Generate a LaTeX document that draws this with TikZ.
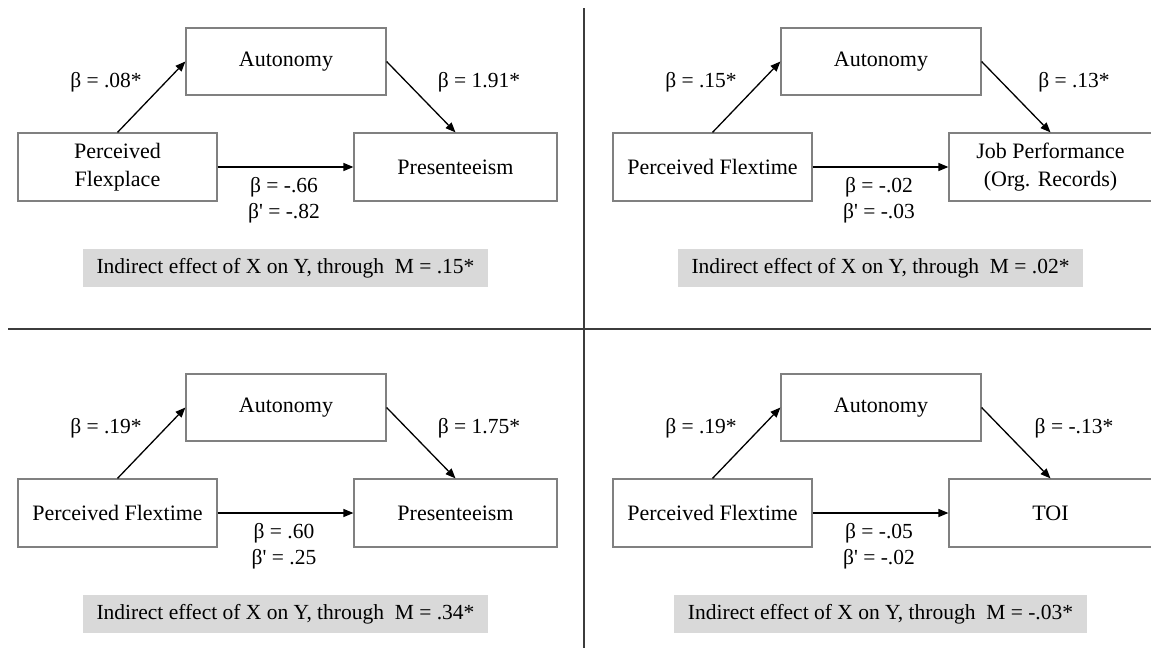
\documentclass[tikz,border=0pt]{standalone}
\usepackage{fontspec}
\setmainfont{Liberation Serif}
\usetikzlibrary{arrows.meta}
\definecolor{boxgray}{HTML}{808080}
\definecolor{fillgray}{HTML}{D9D9D9}
\definecolor{divider}{HTML}{3C3C3C}
\tikzset{
  varbox/.style={draw=boxgray, line width=1.2pt, minimum height=68pt, inner sep=0pt,
    align=center, font=\fontsize{22}{28}\selectfont},
  effect/.style={draw=black, line width=1.3pt, -{Triangle[length=10pt,width=8pt]}},
  coef/.style={font=\fontsize{21.5}{26}\selectfont, inner sep=0pt},
  indirect/.style={fill=fillgray, inner xsep=14pt, inner ysep=0pt, minimum height=38pt,
    font=\fontsize{21.5}{26}\selectfont},
  divline/.style={draw=divider, line width=2.5pt}
}
\newcommand\medpanel[8]{%
  \node[varbox, minimum width=199pt] (#1X) at (117.5,167) {#2};
  \node[varbox, minimum width=200pt, minimum height=67pt] (#1M) at (286,61.5) {Autonomy};
  \node[varbox, minimum width=203pt] (#1Y) at (455.5,167) {#3};
  \draw[effect] (#1X.north) -- (#1M.west);
  \draw[effect] (#1M.east) -- (#1Y.north);
  \draw[effect] (#1X.east) -- (#1Y.west);
  \node[coef] (#1a) at (106,82) {#4};
  \node[coef] (#1b) at (479,82) {#5};
  \node[coef] (#1c) at (284,187) {#6};
  \node[coef] (#1d) at (284,213) {#7};
  \node[indirect] (#1I) at (285.5,268) {#8};
}
\begin{document}
\begin{tikzpicture}[x=1pt, y=-1pt]
  \useasboundingbox (0,0) rectangle (1151,648);
  \clip (0,0) rectangle (1151,648);
  \fill[white] (0,0) rectangle (1151,648);
  % dividers
  \coordinate (hl) at (8,329);
  \coordinate (hr) at (1151,329);
  \coordinate (vt) at (584,8);
  \coordinate (vb) at (584,648);
  \draw[divline] (hl) -- (hr);
  \draw[divline] (vt) -- (vb);
  % top-left
  \begin{scope}
    \medpanel{tl}{Perceived\\Flexplace}{Presenteeism}{β = .08*}{β = 1.91*}%
      {β = -.66}{β\textquotesingle{} = -.82}{Indirect effect of X on Y, through\ \ M = .15*}
  \end{scope}
  % top-right
  \begin{scope}[shift={(595,0)}]
    \medpanel{tr}{Perceived Flextime}{Job Performance\\(Org. Records)}{β = .15*}{β = .13*}%
      {β = -.02}{β\textquotesingle{} = -.03}{Indirect effect of X on Y, through\ \ M = .02*}
  \end{scope}
  % bottom-left
  \begin{scope}[shift={(0,346)}]
    \medpanel{bl}{Perceived Flextime}{Presenteeism}{β = .19*}{β = 1.75*}%
      {β = .60}{β\textquotesingle{} = .25}{Indirect effect of X on Y, through\ \ M = .34*}
  \end{scope}
  % bottom-right
  \begin{scope}[shift={(595,346)}]
    \medpanel{br}{Perceived Flextime}{TOI}{β = .19*}{β = -.13*}%
      {β = -.05}{β\textquotesingle{} = -.02}{Indirect effect of X on Y, through\ \ M = -.03*}
  \end{scope}
\end{tikzpicture}
\end{document}
